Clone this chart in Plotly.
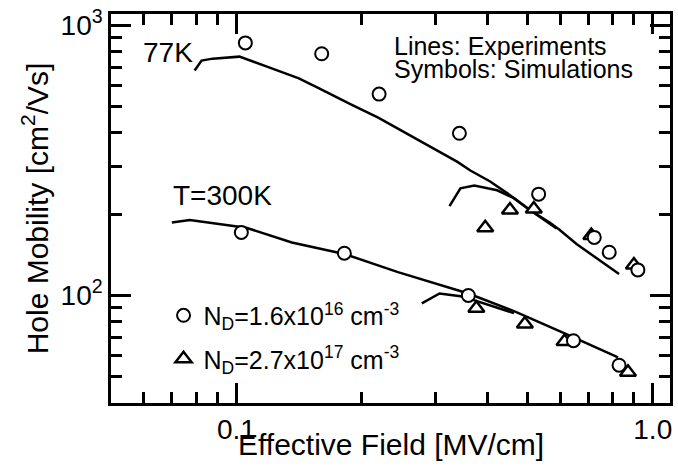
import math
import plotly.graph_objects as go

# ---- data ----
# Experiments (lines)
exp77_lo_x = [0.0794, 0.0825, 0.0877, 0.1017, 0.1198, 0.1413, 0.1576, 0.1692, 0.1889, 0.2191,
              0.2582, 0.2773, 0.3396, 0.3647, 0.4069, 0.4542, 0.5068, 0.5655, 0.597, 0.656, 0.830]
exp77_lo_y = [680, 740, 752, 765, 698, 636, 585, 552, 508, 455,
              395, 369, 312, 290, 264, 235, 207, 186, 175, 155, 120]
exp77_hi_x = [0.325, 0.3452, 0.3728, 0.4229, 0.4642, 0.5068, 0.5875]
exp77_hi_y = [214, 249, 255, 245, 229, 207, 177]
exp300_lo_x = [0.0700, 0.0773, 0.1056, 0.1359, 0.1828, 0.2444, 0.3607, 0.4642, 0.6105, 0.8254]
exp300_lo_y = [186, 190, 178, 157, 142, 122, 101.7, 87.5, 72.7, 59.0]
exp300_hi_x = [0.2788, 0.3076, 0.349, 0.3607, 0.4642]
exp300_hi_y = [93.5, 101.7, 99.2, 97.5, 86.0]

# Simulations (symbols)
sim77_lo_x = [0.1051, 0.1603, 0.2202, 0.3433, 0.532, 0.7236, 0.786, 0.921]
sim77_lo_y = [860, 784, 556, 398, 237, 164, 144.5, 124.3]
sim77_hi_x = [0.396, 0.454, 0.518, 0.712, 0.901]
sim77_hi_y = [178, 207, 209, 166.6, 129.7]
sim300_lo_x = [0.1028, 0.1817, 0.3607, 0.645, 0.830]
sim300_lo_y = [171, 143.3, 100, 68.0, 55.2]
sim300_hi_x = [0.377, 0.493, 0.614, 0.872]
sim300_hi_y = [89.7, 78.4, 67.5, 52.0]

legend_lo = "N<sub>D</sub>=1.6x10<sup>16</sup> cm<sup>-3</sup>"
legend_hi = "N<sub>D</sub>=2.7x10<sup>17</sup> cm<sup>-3</sup>"

x_tickvals = [0.1, 1.0]
x_ticktext = ["0.1", "1.0"]
x_minor = [0.06, 0.07, 0.08, 0.09, 0.2, 0.3, 0.4, 0.5, 0.6, 0.7, 0.8, 0.9]
y_tickvals = [100, 1000]
y_ticktext = ["10<sup>2</sup>", "10<sup>3</sup>"]
y_minor = [50, 60, 70, 80, 90, 200, 300, 400, 500, 600, 700, 800, 900]

FONT = "Liberation Sans, Arial, Helvetica, sans-serif"
BLACK = "black"

fig = go.Figure()

for xs, ys in [(exp77_lo_x, exp77_lo_y), (exp77_hi_x, exp77_hi_y),
               (exp300_lo_x, exp300_lo_y), (exp300_hi_x, exp300_hi_y)]:
    fig.add_trace(go.Scatter(x=xs, y=ys, mode="lines", showlegend=False,
                             line=dict(color=BLACK, width=2.5), hoverinfo="skip"))

tri = dict(symbol="triangle-up", size=14, color="white", line=dict(color=BLACK, width=2.5))
circ = dict(symbol="circle", size=13, color="white", line=dict(color=BLACK, width=2))

fig.add_trace(go.Scatter(x=sim77_hi_x, y=sim77_hi_y, mode="markers", marker=tri,
                         name=legend_hi, legendgroup="hi", showlegend=True, legendrank=2))
fig.add_trace(go.Scatter(x=sim300_hi_x, y=sim300_hi_y, mode="markers", marker=tri,
                         name=legend_hi, legendgroup="hi", showlegend=False))
fig.add_trace(go.Scatter(x=sim77_lo_x, y=sim77_lo_y, mode="markers", marker=circ,
                         name=legend_lo, legendgroup="lo", showlegend=True, legendrank=1))
fig.add_trace(go.Scatter(x=sim300_lo_x, y=sim300_lo_y, mode="markers", marker=circ,
                         name=legend_lo, legendgroup="lo", showlegend=False))

axis_common = dict(
    type="log", showline=True, linecolor=BLACK, linewidth=2.5, mirror="ticks",
    ticks="inside", ticklen=20, tickwidth=2.5, tickcolor=BLACK,
    showgrid=False, zeroline=False, tickmode="array", ticklabeloverflow="allow",
    tickfont=dict(family=FONT, size=28, color=BLACK),
)

fig.update_layout(
    width=678, height=469,
    margin=dict(l=111, r=5, t=8, b=66),
    paper_bgcolor="white", plot_bgcolor="white",
    font=dict(family=FONT, color=BLACK),
    xaxis=dict(**axis_common, range=[math.log10(0.05), math.log10(1.1)],
               tickvals=x_tickvals, ticktext=x_ticktext,
               minor=dict(tickmode="array", tickvals=x_minor, ticks="inside",
                          ticklen=11, tickwidth=2.5, tickcolor=BLACK, showgrid=False)),
    yaxis=dict(**axis_common, range=[math.log10(40), math.log10(1100)],
               tickvals=y_tickvals, ticktext=y_ticktext,
               minor=dict(tickmode="array", tickvals=y_minor, ticks="inside",
                          ticklen=11, tickwidth=2.5, tickcolor=BLACK, showgrid=False),
               title=dict(text="Hole Mobility [cm<sup>2</sup>/Vs]", standoff=4,
                          font=dict(family=FONT, size=30, color=BLACK))),
    legend=dict(x=0.094, y=0.284, xanchor="left", yanchor="top",
                bgcolor="rgba(0,0,0,0)", font=dict(family=FONT, size=25, color=BLACK),
                traceorder="grouped", tracegroupgap=8),
    showlegend=True,
)

def label(text, xpx, ypx, size, xanchor="left"):
    fig.add_annotation(text=text, xref="paper", yref="paper",
                       x=(xpx - 111) / 562, y=(403 - ypx) / 395,
                       xanchor=xanchor, yanchor="middle", showarrow=False,
                       font=dict(family=FONT, size=size, color=BLACK))

label("77K", 141, 47, 28)
label("T=300K", 171, 192, 28)
label("Lines: Experiments", 394, 40, 25)
label("Symbols: Simulations", 394, 64, 25)
# x-axis title, placed tight under the tick labels as in the reference
label("Effective Field [MV/cm]", 392, 445, 30, xanchor="center")

fig.write_html("out.html")
